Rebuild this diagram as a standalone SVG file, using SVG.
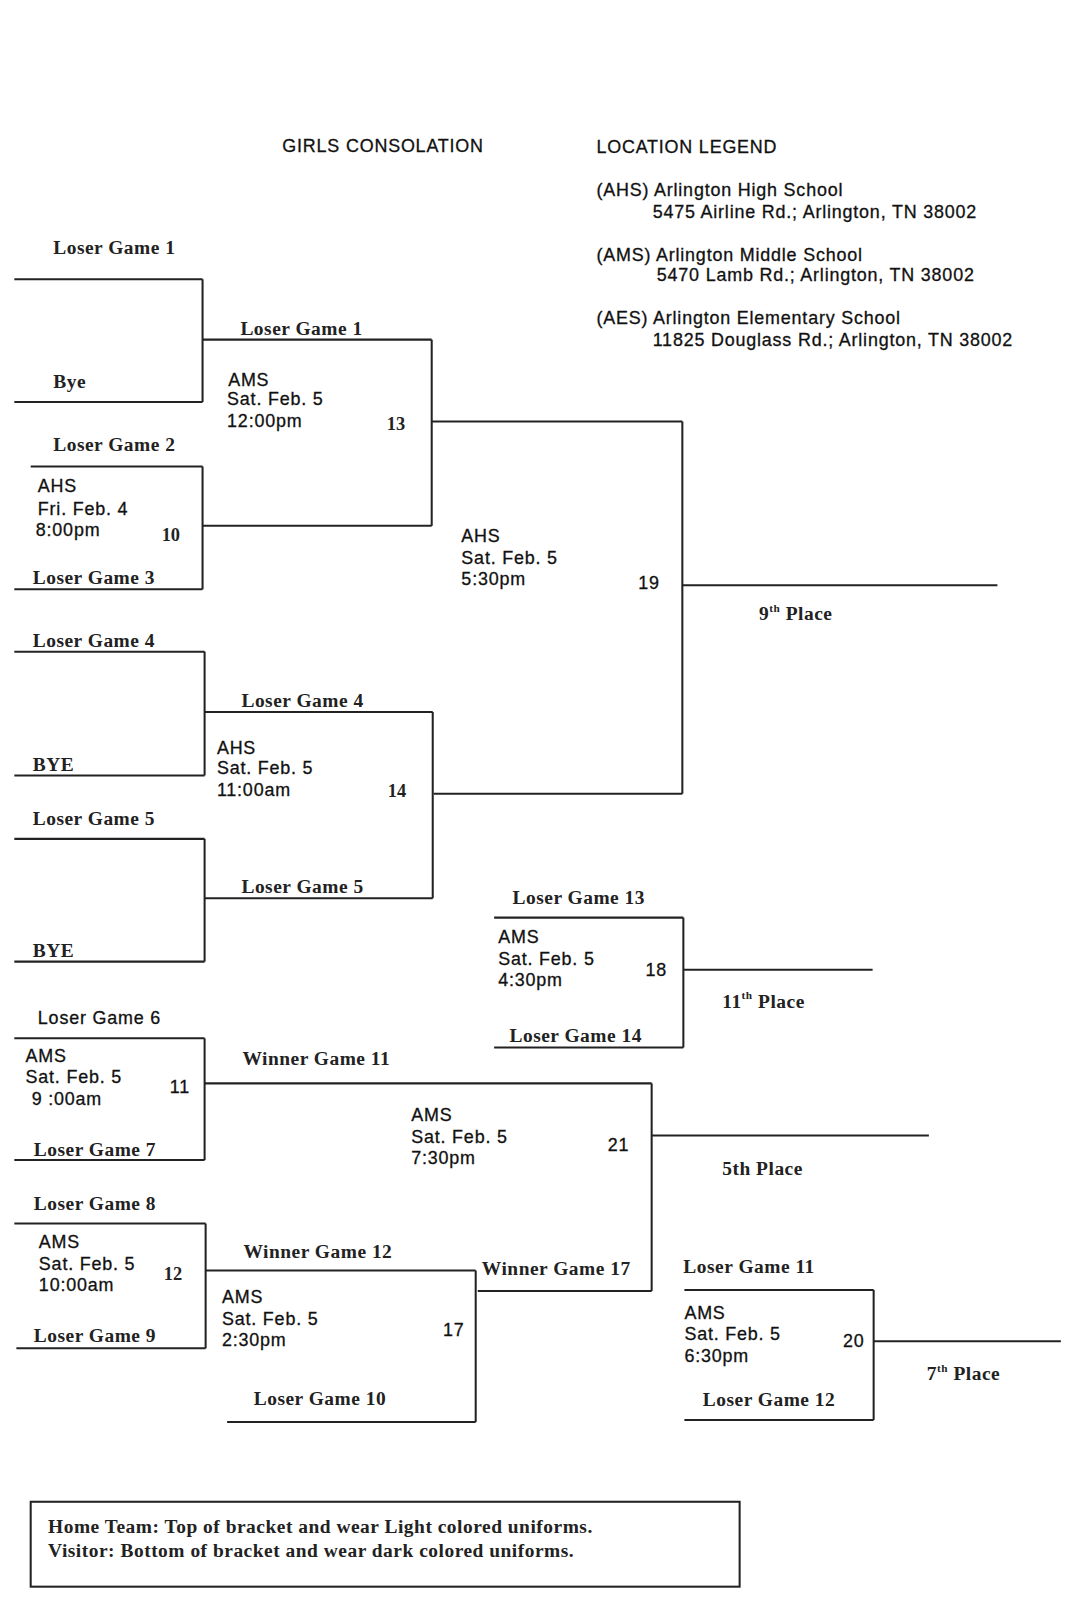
<svg xmlns="http://www.w3.org/2000/svg" width="1072" height="1600" viewBox="0 0 1072 1600">
<style>
.s{font-family:"Liberation Sans",Arial,sans-serif;font-size:17.5px;letter-spacing:0.8px;fill:#111;stroke:#111;stroke-width:0.3}
.r{font-family:"Liberation Serif","Times New Roman",serif;font-size:19px;letter-spacing:0.5px;font-weight:bold;fill:#222}
.n{font-family:"Liberation Serif","Times New Roman",serif;font-size:18px;font-weight:bold;fill:#222}
.c line,.c rect{stroke:#222;stroke-width:2;fill:none}
</style>
<rect width="1072" height="1600" fill="#fff"/>
<g transform="scale(1.023)">
<g id="header">
<text class="s" x="276" y="149">GIRLS  CONSOLATION</text>
<text class="s" x="583" y="150">LOCATION LEGEND</text>
<text class="s" x="583" y="192">(AHS) Arlington High School</text>
<text class="s" x="638" y="213">5475 Airline Rd.; Arlington, TN 38002</text>
<text class="s" x="583" y="255">(AMS) Arlington Middle School</text>
<text class="s" x="642" y="275">5470 Lamb Rd.; Arlington, TN 38002</text>
<text class="s" x="583" y="317">(AES) Arlington Elementary School</text>
<text class="s" x="638" y="338">11825 Douglass Rd.; Arlington, TN 38002</text>
</g>
<g id="connectors" class="c">
<line x1="14" y1="273" x2="198" y2="273"/><line x1="198" y1="273" x2="198" y2="393"/><line x1="14" y1="393" x2="198" y2="393"/>
<line x1="30" y1="456" x2="198" y2="456"/><line x1="198" y1="456" x2="198" y2="576"/><line x1="14" y1="576" x2="198" y2="576"/>
<line x1="198" y1="332" x2="422" y2="332"/><line x1="422" y1="332" x2="422" y2="514"/><line x1="198" y1="514" x2="422" y2="514"/>
<line x1="422" y1="412" x2="667" y2="412"/><line x1="667" y1="412" x2="667" y2="776"/><line x1="424" y1="776" x2="667" y2="776"/>
<line x1="667" y1="572" x2="975" y2="572"/>
<line x1="14" y1="637" x2="200" y2="637"/><line x1="200" y1="637" x2="200" y2="758"/><line x1="14" y1="758" x2="200" y2="758"/>
<line x1="200" y1="696" x2="423" y2="696"/><line x1="423" y1="696" x2="423" y2="878"/><line x1="200" y1="878" x2="423" y2="878"/>
<line x1="14" y1="820" x2="200" y2="820"/><line x1="200" y1="820" x2="200" y2="940"/><line x1="14" y1="940" x2="200" y2="940"/>
<line x1="483" y1="897" x2="668" y2="897"/><line x1="668" y1="897" x2="668" y2="1024"/><line x1="483" y1="1024" x2="668" y2="1024"/><line x1="668" y1="948" x2="853" y2="948"/>
<line x1="14" y1="1015" x2="200" y2="1015"/><line x1="200" y1="1015" x2="200" y2="1134"/><line x1="14" y1="1134" x2="200" y2="1134"/>
<line x1="200" y1="1059" x2="637" y2="1059"/><line x1="637" y1="1059" x2="637" y2="1262"/><line x1="467" y1="1262" x2="637" y2="1262"/><line x1="637" y1="1110" x2="908" y2="1110"/>
<line x1="14" y1="1196" x2="201" y2="1196"/><line x1="201" y1="1196" x2="201" y2="1318"/><line x1="16" y1="1318" x2="201" y2="1318"/>
<line x1="201" y1="1242" x2="465" y2="1242"/><line x1="465" y1="1242" x2="465" y2="1390"/><line x1="222" y1="1390" x2="465" y2="1390"/>
<line x1="669" y1="1261" x2="854" y2="1261"/><line x1="854" y1="1261" x2="854" y2="1388"/><line x1="669" y1="1388" x2="854" y2="1388"/><line x1="854" y1="1311" x2="1037" y2="1311"/>
<rect x="30" y="1468" width="693" height="83"/>
</g>
<g id="g-first">
<text class="r" x="52" y="248">Loser Game 1</text><text class="r" x="52" y="379">Bye</text>
</g>
<g id="g10">
<text class="r" x="52" y="441">Loser Game  2</text>
<text class="s" x="37" y="481">AHS</text><text class="s" x="37" y="503">Fri. Feb. 4</text><text class="s" x="35" y="524">8:00pm</text>
<text class="n" x="158" y="529">10</text><text class="r" x="32" y="571">Loser Game 3</text>
</g>
<g id="g13">
<text class="r" x="235" y="327">Loser Game 1</text>
<text class="s" x="223" y="377">AMS</text><text class="s" x="222" y="396">Sat. Feb. 5</text><text class="s" x="222" y="417">12:00pm</text>
<text class="n" x="378" y="420">13</text>
</g>
<g id="g19">
<text class="s" x="451" y="530">AHS</text><text class="s" x="451" y="551">Sat. Feb. 5</text><text class="s" x="451" y="572">5:30pm</text>
<text class="s" x="624" y="576">19</text>
<text class="r" x="742" y="606">9<tspan font-size="11" dy="-8">th</tspan><tspan dy="8"> Place</tspan></text>
</g>
<g id="g-g4">
<text class="r" x="32" y="632">Loser Game 4</text><text class="r" x="32" y="754">BYE</text>
</g>
<g id="g14">
<text class="r" x="236" y="691">Loser Game  4</text>
<text class="s" x="212" y="737">AHS</text><text class="s" x="212" y="757">Sat. Feb. 5</text><text class="s" x="212" y="778">11:00am</text>
<text class="n" x="379" y="779">14</text><text class="r" x="236" y="873">Loser Game 5</text>
</g>
<g id="g-g5">
<text class="r" x="32" y="806">Loser Game  5</text><text class="r" x="32" y="935">BYE</text>
</g>
<g id="g18">
<text class="r" x="501" y="884">Loser Game 13</text>
<text class="s" x="487" y="922">AMS</text><text class="s" x="487" y="943">Sat. Feb. 5</text><text class="s" x="487" y="964">4:30pm</text>
<text class="s" x="631" y="954">18</text><text class="r" x="498" y="1019">Loser Game 14</text>
<text class="r" x="706" y="985">11<tspan font-size="11" dy="-8">th</tspan><tspan dy="8"> Place</tspan></text>
</g>
<g id="g11">
<text class="s" x="37" y="1001">Loser Game 6</text>
<text class="s" x="25" y="1038">AMS</text><text class="s" x="25" y="1059">Sat. Feb. 5</text><text class="s" x="31" y="1080">9 :00am</text>
<text class="s" x="166" y="1068">11</text><text class="r" x="33" y="1130">Loser Game 7</text>
</g>
<g id="g21">
<text class="r" x="237" y="1041">Winner Game 11</text>
<text class="s" x="402" y="1096">AMS</text><text class="s" x="402" y="1117">Sat. Feb. 5</text><text class="s" x="402" y="1138">7:30pm</text>
<text class="s" x="594" y="1125">21</text><text class="r" x="706" y="1149">5th Place</text>
<text class="r" x="471" y="1246">Winner Game 17</text>
</g>
<g id="g12">
<text class="r" x="33" y="1183">Loser Game 8</text>
<text class="s" x="38" y="1220">AMS</text><text class="s" x="38" y="1241">Sat. Feb. 5</text><text class="s" x="38" y="1262">10:00am</text>
<text class="n" x="160" y="1251">12</text><text class="r" x="33" y="1312">Loser Game 9</text>
</g>
<g id="g17">
<text class="r" x="238" y="1230">Winner Game 12</text>
<text class="s" x="217" y="1274">AMS</text><text class="s" x="217" y="1295">Sat. Feb. 5</text><text class="s" x="217" y="1316">2:30pm</text>
<text class="s" x="433" y="1306">17</text><text class="r" x="248" y="1373">Loser Game 10</text>
</g>
<g id="g20">
<text class="r" x="668" y="1244">Loser Game 11</text>
<text class="s" x="669" y="1289">AMS</text><text class="s" x="669" y="1310">Sat. Feb. 5</text><text class="s" x="669" y="1331">6:30pm</text>
<text class="s" x="824" y="1317">20</text><text class="r" x="687" y="1374">Loser Game 12</text>
<text class="r" x="906" y="1349">7<tspan font-size="11" dy="-8">th</tspan><tspan dy="8"> Place</tspan></text>
</g>
<g id="note">
<text class="r" x="47" y="1499">Home Team:  Top of bracket and wear Light colored uniforms.</text>
<text class="r" x="47" y="1522">Visitor: Bottom of bracket and wear dark colored uniforms.</text>
</g>
</g>
</svg>
